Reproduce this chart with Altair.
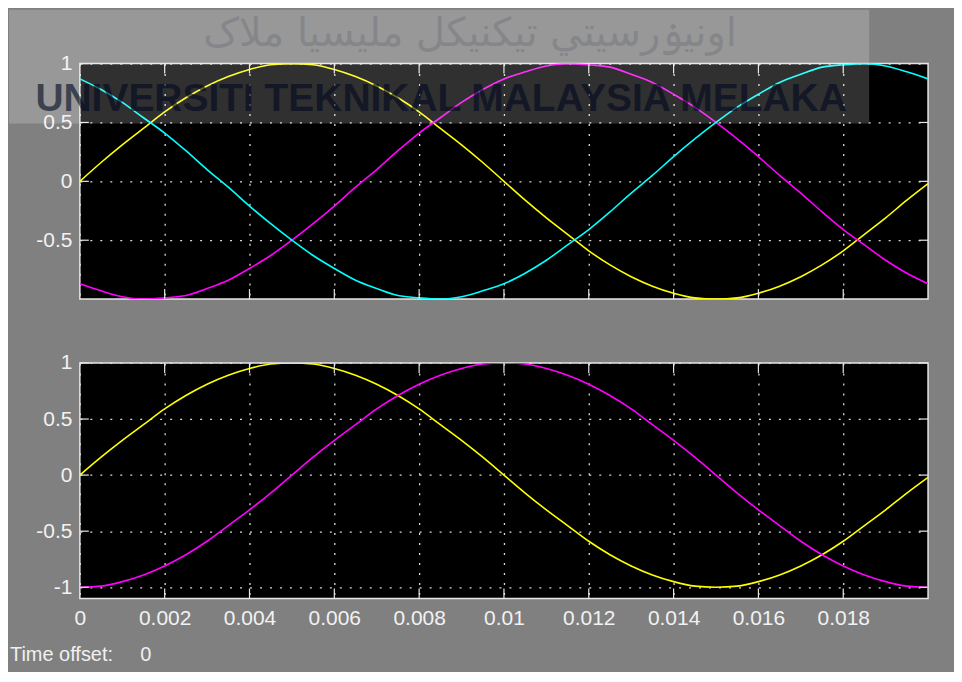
import altair as alt
import pandas as pd

# ---------------- data ----------------
t = [0.0, 0.0005, 0.001, 0.0015, 0.002, 0.0025, 0.003, 0.0035, 0.004, 0.0045,
     0.005, 0.0055, 0.006, 0.0065, 0.007, 0.0075, 0.008, 0.0085, 0.009, 0.0095,
     0.01, 0.0105, 0.011, 0.0115, 0.012, 0.0125, 0.013, 0.0135, 0.014, 0.0145,
     0.015, 0.0155, 0.016, 0.0165, 0.017, 0.0175, 0.018, 0.0185, 0.019, 0.0195, 0.02]

top_yellow = [0.00, 0.16, 0.31, 0.45, 0.59, 0.71, 0.81, 0.89, 0.95, 0.99,
              1.00, 0.99, 0.95, 0.89, 0.81, 0.71, 0.59, 0.45, 0.31, 0.16,
              0.00, -0.16, -0.31, -0.45, -0.59, -0.71, -0.81, -0.89, -0.95, -0.99,
              -1.00, -0.99, -0.95, -0.89, -0.81, -0.71, -0.59, -0.45, -0.31, -0.16, -0.02]
top_magenta = [-0.87, -0.93, -0.98, -1.00, -0.99, -0.97, -0.91, -0.84, -0.74, -0.63,
               -0.50, -0.36, -0.21, -0.05, 0.10, 0.26, 0.41, 0.54, 0.67, 0.78,
               0.87, 0.93, 0.98, 1.00, 0.99, 0.97, 0.91, 0.84, 0.74, 0.63,
               0.50, 0.36, 0.21, 0.05, -0.10, -0.26, -0.41, -0.54, -0.67, -0.78, -0.87]
top_cyan = [0.87, 0.78, 0.67, 0.54, 0.41, 0.26, 0.10, -0.05, -0.21, -0.36,
            -0.50, -0.63, -0.74, -0.84, -0.91, -0.97, -0.99, -1.00, -0.98, -0.93,
            -0.87, -0.78, -0.67, -0.54, -0.41, -0.26, -0.10, 0.05, 0.21, 0.36,
            0.50, 0.63, 0.74, 0.84, 0.91, 0.97, 0.99, 1.00, 0.98, 0.93, 0.87]
bot_yellow = [0.00, 0.16, 0.31, 0.45, 0.59, 0.71, 0.81, 0.89, 0.95, 0.99,
              1.00, 0.99, 0.95, 0.89, 0.81, 0.71, 0.59, 0.45, 0.31, 0.16,
              0.00, -0.16, -0.31, -0.45, -0.59, -0.71, -0.81, -0.89, -0.95, -0.99,
              -1.00, -0.99, -0.95, -0.89, -0.81, -0.71, -0.59, -0.45, -0.31, -0.16, -0.02]
bot_magenta = [-1.00, -0.99, -0.95, -0.89, -0.81, -0.71, -0.59, -0.45, -0.31, -0.16,
               0.00, 0.16, 0.31, 0.45, 0.59, 0.71, 0.81, 0.89, 0.95, 0.99,
               1.00, 0.99, 0.95, 0.89, 0.81, 0.71, 0.59, 0.45, 0.31, 0.16,
               0.00, -0.16, -0.31, -0.45, -0.59, -0.71, -0.81, -0.89, -0.95, -0.99, -1.00]

x_ticks = [0, 0.002, 0.004, 0.006, 0.008, 0.01, 0.012, 0.014, 0.016, 0.018]
top_y_ticks = [-0.5, 0, 0.5, 1]
bot_y_ticks = [-1, -0.5, 0, 0.5, 1]
series_names = ["yellow", "magenta", "cyan"]
series_colors = ["#ffff00", "#ff00ff", "#00ffff"]

watermark_en = "UNIVERSITI TEKNIKAL MALAYSIA MELAKA"
watermark_jawi = "اونيۏرسيتي تيکنيکل مليسيا ملاک"
time_label = "Time offset:"
time_value = "0"

# ---------------- styling / layout ----------------
W, H = 850, 236
GAP = 64
BG = "#808080"
FRAME = "#e6e6e6"
LABEL = "#f2f2f2"
GRID = "#d9d9d9"
TICK = "#e6e6e6"
FONT = "Liberation Sans"
LFS = 21


def long_df(names, arrays):
    rows = []
    for n, arr in zip(names, arrays):
        for tt, v in zip(t, arr):
            rows.append({"t": tt, "v": v, "s": n})
    return pd.DataFrame(rows)


one = pd.DataFrame({"a": [0]})
xs = alt.Scale(domain=[0, 0.02], nice=False, zero=False)
cs = alt.Scale(domain=series_names, range=series_colors)


def panel(df, ydomain, yticks, show_xlabels, extra_layers):
    ys = alt.Scale(domain=ydomain, nice=False, zero=False)
    xaxis = alt.Axis(values=x_ticks, labels=show_xlabels, labelExpr="'' + datum.value",
                     labelColor=LABEL, labelFont=FONT, labelFontSize=LFS, labelPadding=9,
                     labelFlush=False, labelOverlap=False,
                     ticks=False, tickSize=0, domain=False, grid=True, gridColor=GRID,
                     gridDash=[2, 8], gridWidth=1.3, title=None)
    yaxis = alt.Axis(values=yticks, labelExpr="'' + datum.value",
                     labelColor=LABEL, labelFont=FONT, labelFontSize=LFS, labelPadding=8,
                     labelFlush=False, labelOverlap=False,
                     ticks=False, tickSize=0, domain=False, grid=True, gridColor=GRID,
                     gridDash=[2, 8], gridWidth=1.3, title=None)
    lines = alt.Chart(df).mark_line(strokeWidth=1.6, interpolate="monotone", clip=True).encode(
        x=alt.X("t:Q", scale=xs, axis=xaxis),
        y=alt.Y("v:Q", scale=ys, axis=yaxis),
        color=alt.Color("s:N", scale=cs, legend=None),
    )
    xt = pd.DataFrame({"t": x_ticks[1:]})
    yt = pd.DataFrame({"v": yticks})
    tb = alt.Chart(xt).mark_rule(color=TICK, strokeWidth=1.2).encode(
        x=alt.X("t:Q", scale=xs, axis=xaxis), y=alt.value(H), y2=alt.value(H - 10))
    tt_ = alt.Chart(xt).mark_rule(color=TICK, strokeWidth=1.2).encode(
        x=alt.X("t:Q", scale=xs, axis=xaxis), y=alt.value(0), y2=alt.value(10))
    tl = alt.Chart(yt).mark_rule(color=TICK, strokeWidth=1.2).encode(
        y=alt.Y("v:Q", scale=ys, axis=yaxis), x=alt.value(0), x2=alt.value(9))
    tr = alt.Chart(yt).mark_rule(color=TICK, strokeWidth=1.2).encode(
        y=alt.Y("v:Q", scale=ys, axis=yaxis), x=alt.value(W), x2=alt.value(W - 9))
    return alt.layer(lines, tb, tt_, tl, tr, *extra_layers).properties(width=W, height=H)


# invisible frame that fixes the canvas extent (relative to the top plot origin)
frame = alt.Chart(one).mark_rect(opacity=0).encode(
    x=alt.value(-71), x2=alt.value(875), y=alt.value(-54), y2=alt.value(608))
overlay = alt.Chart(one).mark_rect(color="white", opacity=0.19).encode(
    x=alt.value(-71), x2=alt.value(791), y=alt.value(-54), y2=alt.value(60))
jawi = alt.Chart(one).mark_text(text=watermark_jawi, font="DejaVu Sans", fontSize=40,
                                color="#1c2440", opacity=0.15, align="center",
                                baseline="top").encode(x=alt.value(391), y=alt.value(-50))
wm = alt.Chart(one).mark_text(text=watermark_en, font=FONT,
                              fontSize=39, fontWeight="bold", color="#000820", opacity=0.6,
                              align="center", baseline="alphabetic").encode(
    x=alt.value(362), y=alt.value(48))

time_t = alt.Chart(one).mark_text(text=time_label, font=FONT, fontSize=20, color="#f0f0f0",
                                  align="left", baseline="middle").encode(
    x=alt.value(-70), y=alt.value(293))
time_v = alt.Chart(one).mark_text(text=time_value, font=FONT, fontSize=20, color="#f0f0f0",
                                  align="center", baseline="middle").encode(
    x=alt.value(66), y=alt.value(293))

top = panel(long_df(series_names, [top_yellow, top_magenta, top_cyan]), [-1, 1], top_y_ticks,
            False, [frame, overlay, jawi, wm])
bottom = panel(long_df(["yellow", "magenta"], [bot_yellow, bot_magenta]), [-1.1, 1], bot_y_ticks,
               True, [time_t, time_v])

chart = alt.vconcat(top, bottom, spacing=GAP, bounds="flush").properties(
    background=BG, padding=0
).configure_view(fill="black", stroke=FRAME, strokeWidth=1.5)

chart.save("out.html", embed_options={"renderer": "svg", "actions": False})
